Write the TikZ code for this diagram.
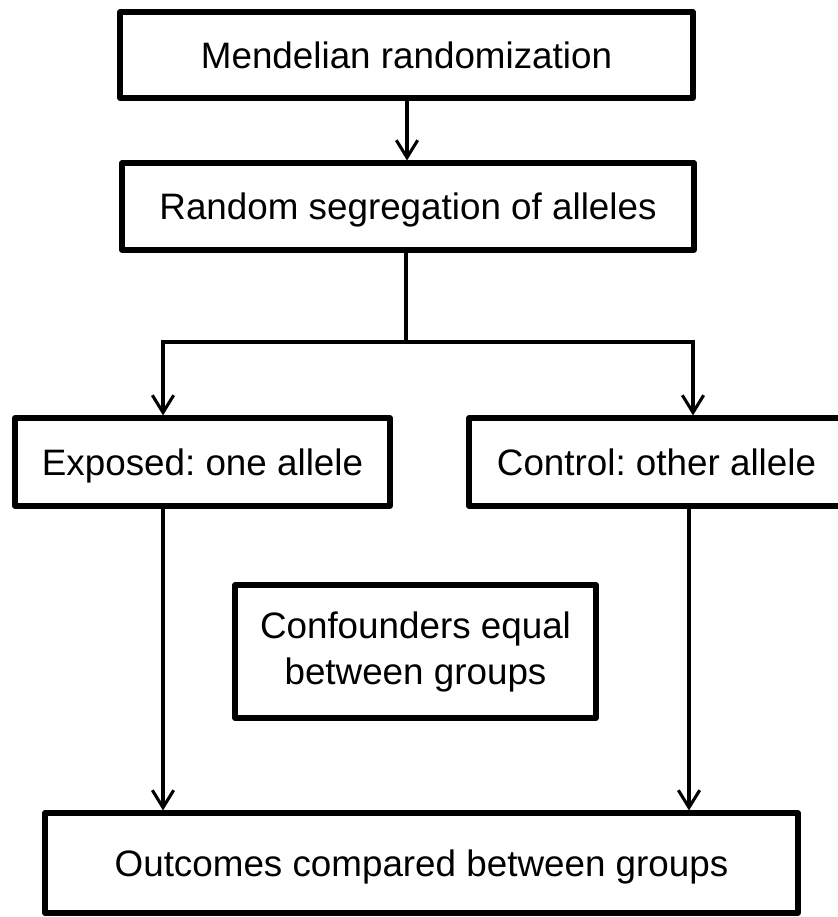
\documentclass[tikz,border=0pt]{standalone}
\usepackage{fontspec}
\setmainfont{Liberation Sans}
\usetikzlibrary{arrows.meta}
\frenchspacing
\begin{document}
\begin{tikzpicture}[x=0.75pt,y=-0.75pt,
  box/.style={draw, line width=3.8pt, line join=round, inner sep=0pt,
    font=\fontsize{27.6}{34.5}\selectfont, align=center},
  oneline/.style={text height=19.8pt, text depth=0pt},
  conn/.style={line width=2.3pt, -{Straight Barb[length=13pt,width=16pt]}},
  plainline/.style={line width=2.3pt}]
\path[use as bounding box, clip] (0,0) rectangle (838,917);
\node[box,oneline,minimum width=429.75pt,minimum height=64.5pt] (b1) at (406.5,55) {Mendelian randomization};
\node[box,oneline,minimum width=429pt,minimum height=65.25pt] (b2) at (408,206.5) {Random segregation of alleles};
\node[box,oneline,minimum width=281.25pt,minimum height=66pt] (b3) at (202.5,462) {Exposed: one allele};
\node[box,oneline,minimum width=281.25pt,minimum height=66pt] (b4) at (656.5,462) {Control: other allele};
\node[box,minimum width=270.75pt,minimum height=99.75pt] (b5) at (415.5,651.5) {Confounders equal\\between groups};
\node[box,oneline,minimum width=564.75pt,minimum height=75pt] (b6) at (421.5,863) {Outcomes compared between groups};
\coordinate (split) at (406,342);
\coordinate (la) at (163,342);
\coordinate (ra) at (693,342);
\coordinate (rb) at (689,342);
\draw[conn] (b1.south -| 407,0) -- (b2.north -| 407,0);
\draw[plainline] (b2.south -| split) -- (split);
\draw[conn] (split) -- (la) -- (la |- b3.north);
\draw[conn] (split) -- (ra) -- (ra |- b4.north);
\draw[conn] (b3.south -| la) -- (la |- b6.north);
\draw[conn] (b4.south -| rb) -- (rb |- b6.north);
\end{tikzpicture}
\end{document}
